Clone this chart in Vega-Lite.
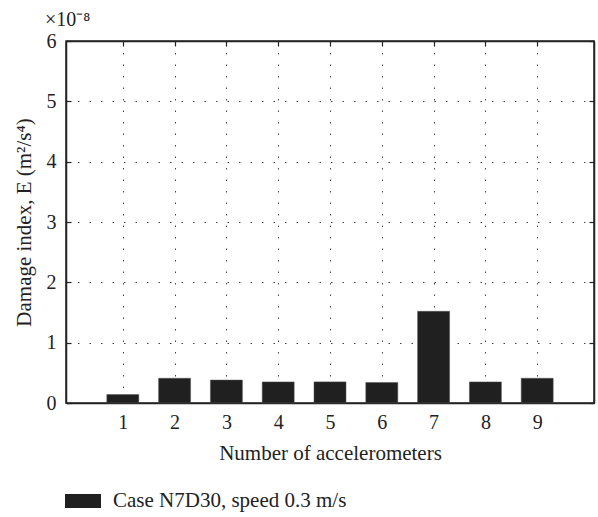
{
  "$schema": "https://vega.github.io/schema/vega-lite/v6.json",
  "autosize": "none",
  "width": 528,
  "height": 362,
  "padding": {"left": 66, "top": 41, "right": 4, "bottom": 114},
  "background": "white",
  "title": {
    "text": "×10⁻⁸",
    "anchor": "start",
    "frame": "group",
    "orient": "top",
    "dx": -21,
    "offset": 1,
    "font": "Liberation Serif",
    "fontSize": 20,
    "fontWeight": "normal",
    "color": "#222"
  },
  "data": {
    "values": [
      {"sensor": 1, "E": 0.14, "series": "Case N7D30, speed 0.3 m/s"},
      {"sensor": 2, "E": 0.41, "series": "Case N7D30, speed 0.3 m/s"},
      {"sensor": 3, "E": 0.38, "series": "Case N7D30, speed 0.3 m/s"},
      {"sensor": 4, "E": 0.35, "series": "Case N7D30, speed 0.3 m/s"},
      {"sensor": 5, "E": 0.35, "series": "Case N7D30, speed 0.3 m/s"},
      {"sensor": 6, "E": 0.34, "series": "Case N7D30, speed 0.3 m/s"},
      {"sensor": 7, "E": 1.52, "series": "Case N7D30, speed 0.3 m/s"},
      {"sensor": 8, "E": 0.35, "series": "Case N7D30, speed 0.3 m/s"},
      {"sensor": 9, "E": 0.41, "series": "Case N7D30, speed 0.3 m/s"}
    ]
  },
  "layer": [
    {
      "mark": {"type": "bar", "size": 32, "stroke": "#555", "strokeWidth": 0.5},
      "encoding": {
        "x": {
          "field": "sensor",
          "type": "quantitative",
          "scale": {"domain": [0, 10], "nice": false, "zero": false},
          "axis": {
            "orient": "bottom",
            "values": [1, 2, 3, 4, 5, 6, 7, 8, 9],
            "title": "Number of accelerometers",
            "grid": true,
            "tickSize": -5,
            "labelPadding": 14,
            "titlePadding": 10
          }
        },
        "y": {
          "field": "E",
          "type": "quantitative",
          "scale": {"domain": [0, 6], "nice": false},
          "axis": {
            "orient": "left",
            "values": [0, 1, 2, 3, 4, 5, 6],
            "title": "Damage index, E (m²/s⁴)",
            "grid": true,
            "tickSize": -5,
            "labelPadding": 15,
            "titlePadding": 12
          }
        },
        "color": {
          "field": "series",
          "type": "nominal",
          "scale": {"range": ["#202020"]},
          "legend": {
            "title": null,
            "orient": "none",
            "legendX": -1,
            "legendY": 442,
            "padding": 0,
            "symbolType": "M-1,-0.39H1V0.39H-1Z",
            "symbolSize": 1296,
            "symbolStrokeWidth": 0,
            "symbolOpacity": 1,
            "labelFont": "Liberation Serif",
            "labelFontSize": 21,
            "labelColor": "#222",
            "labelOffset": 12,
            "labelLimit": 400
          }
        }
      }
    },
    {
      "mark": {"type": "bar", "size": 32, "opacity": 0},
      "encoding": {
        "x": {
          "field": "sensor",
          "type": "quantitative",
          "axis": {
            "orient": "top",
            "values": [1, 2, 3, 4, 5, 6, 7, 8, 9],
            "title": null,
            "labels": false,
            "grid": false,
            "tickSize": -5
          }
        },
        "y": {
          "field": "E",
          "type": "quantitative",
          "axis": {
            "orient": "right",
            "values": [0, 1, 2, 3, 4, 5, 6],
            "title": null,
            "labels": false,
            "grid": false,
            "tickSize": -5
          }
        }
      }
    }
  ],
  "resolve": {"axis": {"x": "independent", "y": "independent"}},
  "config": {
    "view": {"stroke": "#222", "strokeWidth": 1.5},
    "axis": {
      "labelFont": "Liberation Serif",
      "labelFontSize": 20,
      "labelColor": "#222",
      "titleFont": "Liberation Serif",
      "titleFontSize": 21,
      "titleFontWeight": "normal",
      "titleColor": "#222",
      "domainColor": "#222",
      "domainWidth": 1.5,
      "tickColor": "#222",
      "tickWidth": 1.2,
      "gridColor": "#444",
      "gridWidth": 1,
      "gridDash": [1.5, 10]
    }
  }
}
